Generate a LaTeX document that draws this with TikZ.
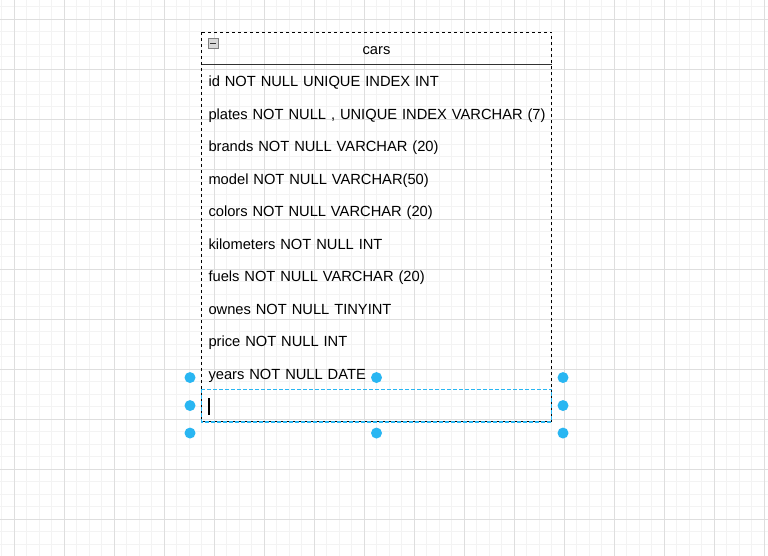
\documentclass[tikz,border=0pt]{standalone}
\usepackage{fontspec}
\setmainfont{Liberation Sans}
\usetikzlibrary{positioning}
\definecolor{gridmajor}{HTML}{DEDEDE}
\definecolor{gridminor}{HTML}{F3F3F3}
\definecolor{selblue}{HTML}{29B6F2}
\definecolor{frame}{HTML}{333333}
\begin{document}
\begin{tikzpicture}[x=1pt,y=-1pt,
	field/.style={minimum width=350pt,minimum height=32.5pt,inner xsep=7pt,inner ysep=0pt,outer sep=0pt,
		text width=336pt,align=left,text height=15pt,text depth=3pt,font=\fontsize{14.7}{18}\selectfont},
	title/.style={field,align=center,minimum height=32pt},
	node distance=0pt]
		\useasboundingbox[fill=white] (0,0) rectangle (768,556);
		% grid
		\foreach \k in {0,...,61} \draw[gridminor,line width=1pt] ({1.8+12.5*\k},0) -- ++(0,556);
		\foreach \k in {0,...,43} \draw[gridminor,line width=1pt] (0,{6.8+12.5*\k}) -- ++(768,0);
		\foreach \k in {0,...,15} \draw[gridmajor,line width=1pt] ({14.3+50*\k},0) -- ++(0,556);
		\foreach \k in {0,...,10} \draw[gridmajor,line width=1pt] (0,{19.3+50*\k}) -- ++(768,0);
		% table
		\node[title,anchor=north west] (cars) at (201.5,32.3) {cars};
		\node[field,below=of cars] (id) {id NOT NULL UNIQUE INDEX INT};
		\node[field,below=of id] (plates) {\mbox{plates NOT NULL , UNIQUE INDEX VARCHAR (7)}};
		\node[field,below=of plates] (brands) {brands NOT NULL VARCHAR (20)};
		\node[field,below=of brands] (model) {model NOT NULL VARCHAR(50)};
		\node[field,below=of model] (colors) {colors NOT NULL VARCHAR (20)};
		\node[field,below=of colors] (km) {kilometers NOT NULL INT};
		\node[field,below=of km] (fuels) {fuels NOT NULL VARCHAR (20)};
		\node[field,below=of fuels] (ownes) {ownes NOT NULL TINYINT};
		\node[field,below=of ownes] (price) {price NOT NULL INT};
		\node[field,below=of price] (years) {years NOT NULL DATE};
		\node[field,below=of years] (blank) {};
		\draw[frame,line width=1.5pt] (cars.south west) -- (cars.south east);
		\draw[black,line width=1pt,dash pattern=on 3pt off 3pt] (cars.north west) rectangle (blank.south east);
		\draw[selblue,line width=1.6pt,dash pattern=on 4pt off 2pt] (blank.north west) rectangle (blank.south east);
		% collapse box
		\draw[gray,fill=black!15] (cars.north west) ++(6.5,6) rectangle ++(10,10);
		\draw[frame,line width=1.5pt] (cars.north west) ++(8.5,11) -- ++(6,0);
		% cursor
		\fill[black] (blank.west) ++(6.7,-7.5) rectangle ++(2,16.5);
		% handles
		\foreach \dx/\dy in {-186.5/-28,0/-28,186.5/-28,-186.5/0,186.5/0,-186.5/27.5,0/27.5,186.5/27.5}
			\fill[selblue] (blank.center) ++(\dx,\dy) circle (5.5);
	\end{tikzpicture}
\end{document}
